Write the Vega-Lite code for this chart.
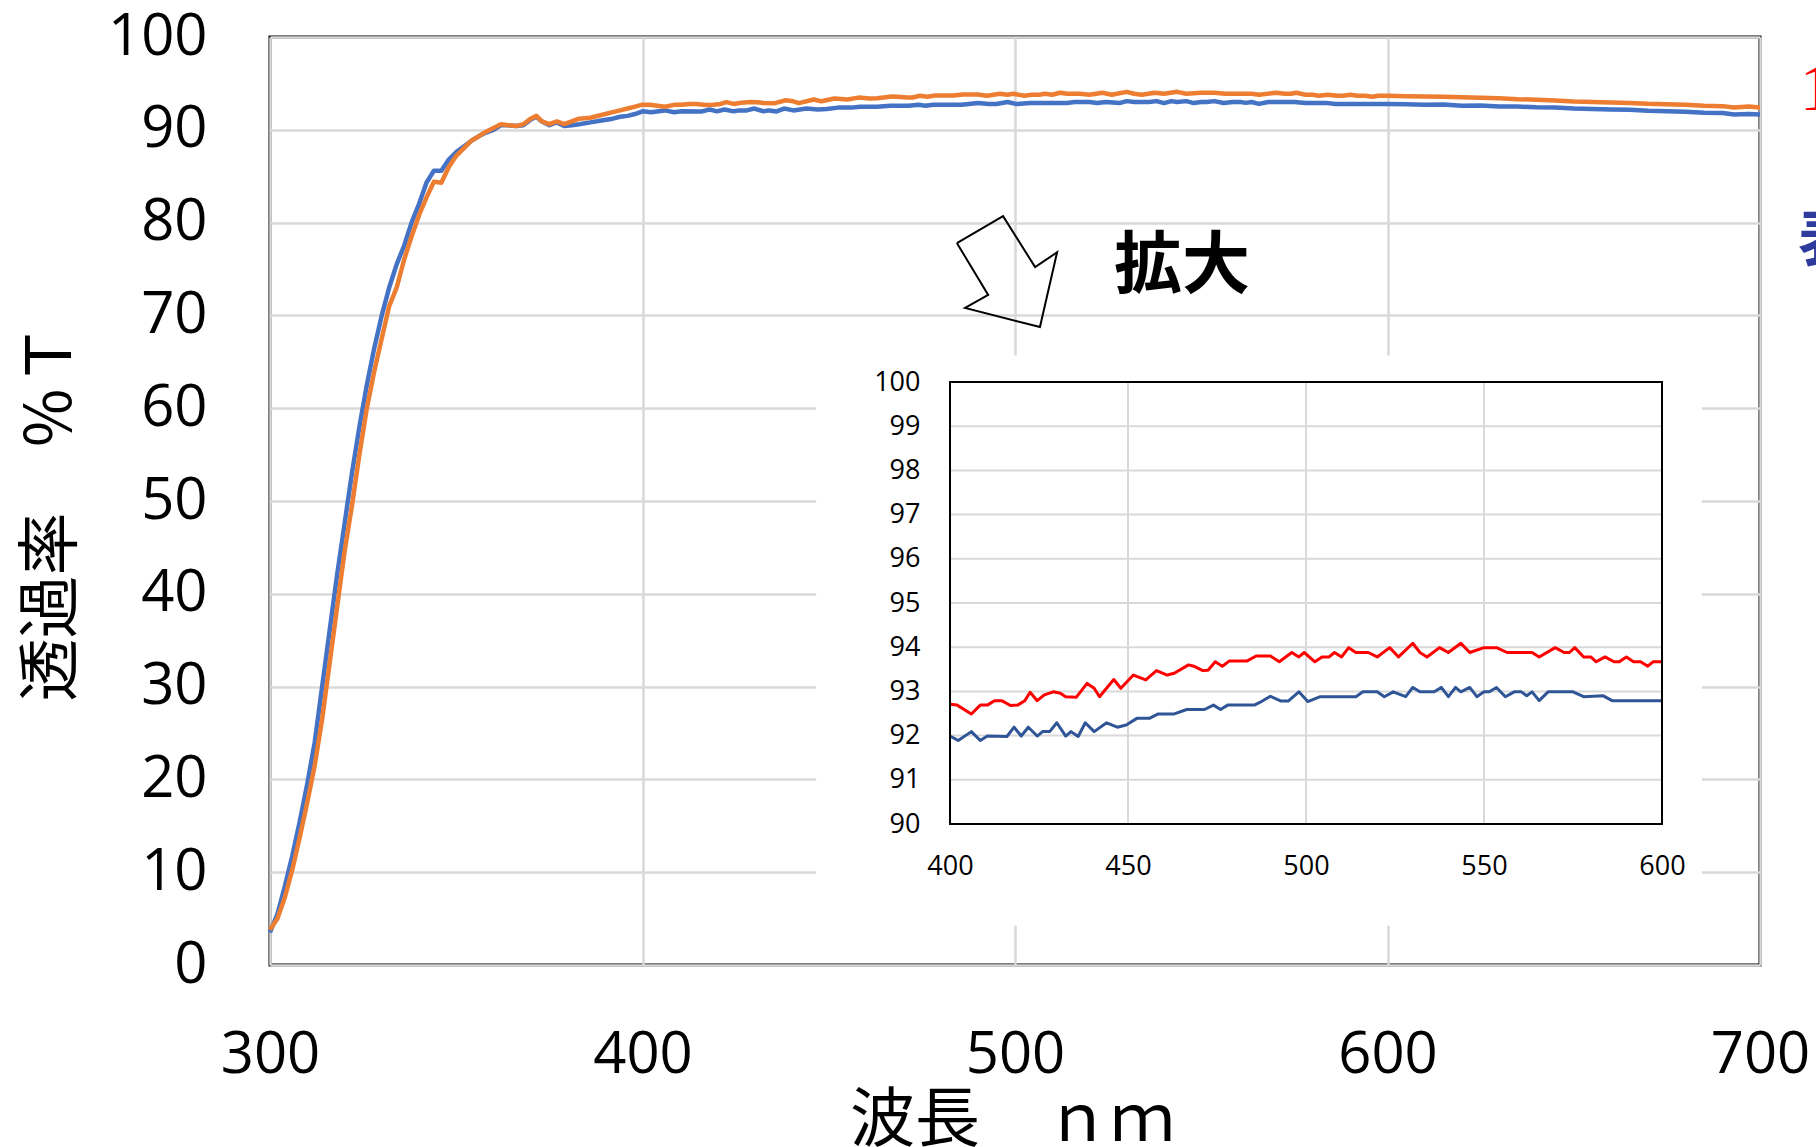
{
"$schema":"https://vega.github.io/schema/vega-lite/v6.json",
"width":1490,"height":928,
"autosize":{"type":"none"},
"padding":{"left":270,"top":37,"right":56,"bottom":182},
"background":"white",
"config":{"view":{"stroke":"black","strokeWidth":3},"font":"Open Sans"},
"datasets":{
"spec":[
{"wl":300,"s":"s2","t":3.5},{"wl":302,"s":"s2","t":5.5},{"wl":304,"s":"s2","t":8.5},{"wl":306,"s":"s2","t":11.8},{"wl":308,"s":"s2","t":15.5},{"wl":310,"s":"s2","t":19.5},{"wl":312,"s":"s2","t":24},{"wl":314,"s":"s2","t":30},{"wl":316,"s":"s2","t":36},{"wl":318,"s":"s2","t":42},{"wl":320,"s":"s2","t":47.5},{"wl":322,"s":"s2","t":53},{"wl":324,"s":"s2","t":58},{"wl":326,"s":"s2","t":62.5},{"wl":328,"s":"s2","t":66.5},{"wl":330,"s":"s2","t":70},{"wl":332,"s":"s2","t":73},{"wl":334,"s":"s2","t":75.5},{"wl":336,"s":"s2","t":77.5},{"wl":338,"s":"s2","t":80},{"wl":340,"s":"s2","t":82},{"wl":342,"s":"s2","t":84.3},{"wl":344,"s":"s2","t":85.6},{"wl":346,"s":"s2","t":85.6},{"wl":348,"s":"s2","t":86.8},{"wl":350,"s":"s2","t":87.6},{"wl":352,"s":"s2","t":88.2},{"wl":354,"s":"s2","t":88.8},{"wl":356,"s":"s2","t":89.3},{"wl":358,"s":"s2","t":89.7},{"wl":360,"s":"s2","t":90},{"wl":362,"s":"s2","t":90.5},{"wl":364,"s":"s2","t":90.5},{"wl":366,"s":"s2","t":90.4},{"wl":368,"s":"s2","t":90.5},{"wl":370,"s":"s2","t":91.1},{"wl":371.5,"s":"s2","t":91.4},{"wl":373,"s":"s2","t":90.9},{"wl":375,"s":"s2","t":90.5},{"wl":377,"s":"s2","t":90.8},{"wl":379,"s":"s2","t":90.4},{"wl":381,"s":"s2","t":90.5},{"wl":383,"s":"s2","t":90.6},{"wl":386,"s":"s2","t":90.8},{"wl":389,"s":"s2","t":91},{"wl":392,"s":"s2","t":91.2},{"wl":394,"s":"s2","t":91.4},{"wl":396,"s":"s2","t":91.5},{"wl":398,"s":"s2","t":91.7},
{"wl":400,"s":"s2","t":91.99},{"wl":402.3,"s":"s2","t":91.89},{"wl":406,"s":"s2","t":92.09},{"wl":408.5,"s":"s2","t":91.89},{"wl":410.5,"s":"s2","t":91.99},{"wl":416,"s":"s2","t":91.98},{"wl":418,"s":"s2","t":92.19},{"wl":420,"s":"s2","t":91.99},{"wl":422,"s":"s2","t":92.19},{"wl":424.5,"s":"s2","t":91.99},{"wl":426,"s":"s2","t":92.09},{"wl":428,"s":"s2","t":92.09},{"wl":430,"s":"s2","t":92.29},{"wl":432.5,"s":"s2","t":91.99},{"wl":434,"s":"s2","t":92.09},{"wl":436,"s":"s2","t":91.98},{"wl":438,"s":"s2","t":92.29},{"wl":440.5,"s":"s2","t":92.09},{"wl":444,"s":"s2","t":92.29},{"wl":447,"s":"s2","t":92.19},{"wl":449.5,"s":"s2","t":92.24},{"wl":452.5,"s":"s2","t":92.39},{"wl":456,"s":"s2","t":92.39},{"wl":458.5,"s":"s2","t":92.49},{"wl":463,"s":"s2","t":92.49},{"wl":466.5,"s":"s2","t":92.59},{"wl":471.5,"s":"s2","t":92.59},{"wl":474,"s":"s2","t":92.69},{"wl":476,"s":"s2","t":92.59},{"wl":478,"s":"s2","t":92.69},{"wl":485.5,"s":"s2","t":92.69},{"wl":487,"s":"s2","t":92.75},{"wl":490,"s":"s2","t":92.89},{"wl":493,"s":"s2","t":92.78},{"wl":495,"s":"s2","t":92.78},{"wl":498,"s":"s2","t":92.99},{"wl":500.5,"s":"s2","t":92.77},{"wl":504,"s":"s2","t":92.88},{"wl":514,"s":"s2","t":92.88},{"wl":516,"s":"s2","t":92.99},{"wl":520,"s":"s2","t":92.99},{"wl":522,"s":"s2","t":92.88},{"wl":524.5,"s":"s2","t":92.99},{"wl":528,"s":"s2","t":92.88},{"wl":530,"s":"s2","t":93.09},{"wl":532,"s":"s2","t":92.99},{"wl":536,"s":"s2","t":92.99},{"wl":538,"s":"s2","t":93.09},{"wl":540,"s":"s2","t":92.88},{"wl":542,"s":"s2","t":93.09},{"wl":543.5,"s":"s2","t":92.99},{"wl":546,"s":"s2","t":93.09},{"wl":548,"s":"s2","t":92.88},{"wl":550,"s":"s2","t":92.99},{"wl":551.5,"s":"s2","t":92.99},{"wl":553.5,"s":"s2","t":93.09},{"wl":556,"s":"s2","t":92.88},{"wl":558.5,"s":"s2","t":92.99},{"wl":560.5,"s":"s2","t":92.99},{"wl":562,"s":"s2","t":92.9},{"wl":563.5,"s":"s2","t":92.99},{"wl":565.5,"s":"s2","t":92.79},{"wl":568,"s":"s2","t":92.99},{"wl":575,"s":"s2","t":92.99},{"wl":578,"s":"s2","t":92.88},{"wl":583.5,"s":"s2","t":92.9},{"wl":586,"s":"s2","t":92.79},{"wl":600,"s":"s2","t":92.79},
{"wl":605,"s":"s2","t":92.75},{"wl":610,"s":"s2","t":92.7},{"wl":615,"s":"s2","t":92.72},{"wl":620,"s":"s2","t":92.6},{"wl":625,"s":"s2","t":92.62},{"wl":630,"s":"s2","t":92.5},{"wl":635,"s":"s2","t":92.5},{"wl":640,"s":"s2","t":92.42},{"wl":645,"s":"s2","t":92.4},{"wl":650,"s":"s2","t":92.3},{"wl":655,"s":"s2","t":92.25},{"wl":660,"s":"s2","t":92.2},{"wl":665,"s":"s2","t":92.15},{"wl":670,"s":"s2","t":92.05},{"wl":675,"s":"s2","t":92},{"wl":680,"s":"s2","t":91.95},{"wl":685,"s":"s2","t":91.85},{"wl":690,"s":"s2","t":91.8},{"wl":693,"s":"s2","t":91.65},{"wl":697,"s":"s2","t":91.7},{"wl":700,"s":"s2","t":91.65},
{"wl":300,"s":"s1","t":3.8},{"wl":302,"s":"s1","t":5},{"wl":304,"s":"s1","t":7.3},{"wl":306,"s":"s1","t":10.3},{"wl":308,"s":"s1","t":13.8},{"wl":310,"s":"s1","t":17.5},{"wl":312,"s":"s1","t":21.5},{"wl":314,"s":"s1","t":26.5},{"wl":316,"s":"s1","t":32.5},{"wl":318,"s":"s1","t":38.5},{"wl":320,"s":"s1","t":44.5},{"wl":322,"s":"s1","t":49.5},{"wl":324,"s":"s1","t":55},{"wl":326,"s":"s1","t":60},{"wl":328,"s":"s1","t":64},{"wl":330,"s":"s1","t":67.5},{"wl":332,"s":"s1","t":71},{"wl":334,"s":"s1","t":73},{"wl":336,"s":"s1","t":76},{"wl":338,"s":"s1","t":78.5},{"wl":340,"s":"s1","t":80.8},{"wl":342,"s":"s1","t":82.7},{"wl":344,"s":"s1","t":84.4},{"wl":346,"s":"s1","t":84.3},{"wl":348,"s":"s1","t":86},{"wl":350,"s":"s1","t":87.2},{"wl":352,"s":"s1","t":88},{"wl":354,"s":"s1","t":88.8},{"wl":356,"s":"s1","t":89.3},{"wl":358,"s":"s1","t":89.8},{"wl":360,"s":"s1","t":90.2},{"wl":362,"s":"s1","t":90.6},{"wl":364,"s":"s1","t":90.5},{"wl":366,"s":"s1","t":90.4},{"wl":368,"s":"s1","t":90.6},{"wl":370,"s":"s1","t":91.2},{"wl":371.5,"s":"s1","t":91.5},{"wl":373,"s":"s1","t":90.9},{"wl":375,"s":"s1","t":90.6},{"wl":377,"s":"s1","t":90.9},{"wl":379,"s":"s1","t":90.6},{"wl":381,"s":"s1","t":90.9},{"wl":383,"s":"s1","t":91.2},{"wl":386,"s":"s1","t":91.3},{"wl":389,"s":"s1","t":91.6},{"wl":392,"s":"s1","t":91.9},{"wl":394,"s":"s1","t":92.1},{"wl":396,"s":"s1","t":92.3},{"wl":398,"s":"s1","t":92.5},
{"wl":400,"s":"s1","t":92.71},{"wl":402,"s":"s1","t":92.69},{"wl":406,"s":"s1","t":92.49},{"wl":408.5,"s":"s1","t":92.69},{"wl":410.5,"s":"s1","t":92.69},{"wl":412.5,"s":"s1","t":92.79},{"wl":414.5,"s":"s1","t":92.79},{"wl":417,"s":"s1","t":92.68},{"wl":419,"s":"s1","t":92.69},{"wl":421,"s":"s1","t":92.79},{"wl":422.5,"s":"s1","t":92.98},{"wl":424.5,"s":"s1","t":92.79},{"wl":426.5,"s":"s1","t":92.92},{"wl":429,"s":"s1","t":92.99},{"wl":431,"s":"s1","t":92.96},{"wl":432.5,"s":"s1","t":92.88},{"wl":435.5,"s":"s1","t":92.87},{"wl":438.5,"s":"s1","t":93.18},{"wl":440.5,"s":"s1","t":93.07},{"wl":442,"s":"s1","t":92.88},{"wl":446,"s":"s1","t":93.27},{"wl":448,"s":"s1","t":93.07},{"wl":451.5,"s":"s1","t":93.37},{"wl":455,"s":"s1","t":93.26},{"wl":458,"s":"s1","t":93.47},{"wl":461,"s":"s1","t":93.37},{"wl":463,"s":"s1","t":93.41},{"wl":467,"s":"s1","t":93.6},{"wl":468.5,"s":"s1","t":93.57},{"wl":471,"s":"s1","t":93.47},{"wl":472.5,"s":"s1","t":93.48},{"wl":474.5,"s":"s1","t":93.67},{"wl":476.5,"s":"s1","t":93.57},{"wl":478.5,"s":"s1","t":93.69},{"wl":483.5,"s":"s1","t":93.69},{"wl":486,"s":"s1","t":93.8},{"wl":490,"s":"s1","t":93.8},{"wl":492.5,"s":"s1","t":93.67},{"wl":496,"s":"s1","t":93.88},{"wl":498,"s":"s1","t":93.78},{"wl":499.5,"s":"s1","t":93.88},{"wl":502.5,"s":"s1","t":93.67},{"wl":504.5,"s":"s1","t":93.78},{"wl":506.5,"s":"s1","t":93.78},{"wl":508,"s":"s1","t":93.88},{"wl":510,"s":"s1","t":93.78},{"wl":512,"s":"s1","t":93.99},{"wl":514,"s":"s1","t":93.88},{"wl":517.5,"s":"s1","t":93.88},{"wl":520,"s":"s1","t":93.78},{"wl":523.5,"s":"s1","t":93.99},{"wl":526,"s":"s1","t":93.78},{"wl":530,"s":"s1","t":94.09},{"wl":532,"s":"s1","t":93.88},{"wl":534,"s":"s1","t":93.78},{"wl":537.5,"s":"s1","t":93.99},{"wl":540,"s":"s1","t":93.88},{"wl":543.5,"s":"s1","t":94.09},{"wl":546,"s":"s1","t":93.88},{"wl":550,"s":"s1","t":93.99},{"wl":553.5,"s":"s1","t":93.99},{"wl":556.5,"s":"s1","t":93.88},{"wl":563.5,"s":"s1","t":93.88},{"wl":565.5,"s":"s1","t":93.78},{"wl":570,"s":"s1","t":93.99},{"wl":572.5,"s":"s1","t":93.88},{"wl":574,"s":"s1","t":93.88},{"wl":575.5,"s":"s1","t":93.99},{"wl":578,"s":"s1","t":93.78},{"wl":580,"s":"s1","t":93.78},{"wl":581.5,"s":"s1","t":93.67},{"wl":584,"s":"s1","t":93.78},{"wl":586.5,"s":"s1","t":93.67},{"wl":588,"s":"s1","t":93.67},{"wl":590,"s":"s1","t":93.78},{"wl":592,"s":"s1","t":93.67},{"wl":594,"s":"s1","t":93.67},{"wl":596,"s":"s1","t":93.57},{"wl":597.5,"s":"s1","t":93.67},{"wl":600,"s":"s1","t":93.67},
{"wl":605,"s":"s1","t":93.62},{"wl":610,"s":"s1","t":93.6},{"wl":615,"s":"s1","t":93.55},{"wl":620,"s":"s1","t":93.5},{"wl":625,"s":"s1","t":93.45},{"wl":630,"s":"s1","t":93.4},{"wl":635,"s":"s1","t":93.3},{"wl":640,"s":"s1","t":93.25},{"wl":645,"s":"s1","t":93.15},{"wl":650,"s":"s1","t":93.05},{"wl":655,"s":"s1","t":93},{"wl":660,"s":"s1","t":92.95},{"wl":665,"s":"s1","t":92.9},{"wl":670,"s":"s1","t":92.8},{"wl":675,"s":"s1","t":92.75},{"wl":680,"s":"s1","t":92.7},{"wl":685,"s":"s1","t":92.6},{"wl":690,"s":"s1","t":92.55},{"wl":693,"s":"s1","t":92.4},{"wl":697,"s":"s1","t":92.5},{"wl":700,"s":"s1","t":92.4}
],
"arrow":[{"o":1,"wl":484.4,"t":77.8},{"o":2,"wl":496.8,"t":80.7},{"o":3,"wl":505.4,"t":75.2},{"o":4,"wl":511.3,"t":76.8},{"o":5,"wl":506.7,"t":68.75},{"o":6,"wl":486.6,"t":70.8},{"o":7,"wl":492.8,"t":72.2},{"o":8,"wl":484.4,"t":77.8}],
"panel":[{"wl":362.4,"wl2":611.2,"t":87.7,"t2":100.6}],
"frame":[{"wl":400,"wl2":600,"t":90,"t2":100}],
"vgrid":[{"wl":450,"t":90,"t2":100},{"wl":500,"t":90,"t2":100},{"wl":550,"t":90,"t2":100}],
"hgrid":[{"wl":400,"wl2":600,"t":91},{"wl":400,"wl2":600,"t":92},{"wl":400,"wl2":600,"t":93},{"wl":400,"wl2":600,"t":94},{"wl":400,"wl2":600,"t":95},{"wl":400,"wl2":600,"t":96},{"wl":400,"wl2":600,"t":97},{"wl":400,"wl2":600,"t":98},{"wl":400,"wl2":600,"t":99}]
},
"layer":[
{
"encoding":{
"x":{"field":"wl","type":"quantitative","scale":{"domain":[300,700],"nice":false,"zero":false},
"axis":{"values":[300,400,500,600,700],"grid":true,"gridColor":"#D9D9D9","gridWidth":2.5,"domain":false,"ticks":false,"labelFontSize":58,"labelFont":"Open Sans","labelColor":"#000000","labelPadding":61,"labelFlush":false,"labelOverlap":false,"labelBound":false,"title":"波長　ｎｍ","titleFont":"Noto Sans CJK JP","titleFontSize":65,"titleFontWeight":"normal","titleColor":"#000000","titleX":742,"titleY":175,"titleBaseline":"alphabetic","titleAlign":"center"}},
"y":{"field":"t","type":"quantitative","scale":{"domain":[0,100],"nice":false,"zero":false},
"axis":{"values":[0,10,20,30,40,50,60,70,80,90,100],"grid":true,"gridColor":"#D9D9D9","gridWidth":2.5,"domain":false,"ticks":false,"labelFontSize":58,"labelFont":"Open Sans","labelColor":"#000000","labelPadding":63,"labelFlush":false,"labelOverlap":false,"labelBound":false,"title":"透過率　％Ｔ","titleFont":"Noto Sans CJK JP","titleFontSize":63,"titleFontWeight":"normal","titleColor":"#000000","titleAngle":270,"titleX":-219,"titleY":475,"titleBaseline":"middle","titleAlign":"center"}}
},
"layer":[
{"data":{"name":"spec"},"transform":[{"filter":"datum.s === 's2'"}],"mark":{"type":"line","color":"#4472C4","strokeWidth":4.5,"strokeJoin":"round"}},
{"data":{"name":"spec"},"transform":[{"filter":"datum.s === 's1'"}],"mark":{"type":"line","color":"#ED7D31","strokeWidth":4.5,"strokeJoin":"round"}},
{"data":{"name":"arrow"},"mark":{"type":"line","color":"#000000","strokeWidth":2,"strokeJoin":"miter"},"encoding":{"order":{"field":"o","type":"quantitative"}}},
{"data":{"values":[{"wl":544.8,"t":75.1,"txt":"拡大"}]},"mark":{"type":"text","font":"Noto Sans CJK JP","fontSize":68,"fontWeight":"bold","align":"center","baseline":"middle","color":"#000000"},"encoding":{"text":{"field":"txt"}}},
{"data":{"values":[{"wl":710.7,"t":92.13,"txt":"1"}]},"mark":{"type":"text","font":"Liberation Serif","fontSize":68,"align":"left","baseline":"alphabetic","color":"#FF0000"},"encoding":{"text":{"field":"txt"}}},
{"data":{"values":[{"wl":710.2,"t":75.86,"txt":"表"}]},"mark":{"type":"text","font":"Noto Sans CJK JP","fontSize":62,"fontWeight":"bold","align":"left","baseline":"alphabetic","color":"#2E3A9C"},"encoding":{"text":{"field":"txt"}}}
]
},
{
"encoding":{
"x":{"field":"wl","type":"quantitative","scale":{"domain":[400,600],"range":[680,1392],"nice":false,"zero":false},
"axis":{"orient":"bottom","offset":-141,"zindex":1,"values":[400,450,500,550,600],"grid":false,"domain":false,"ticks":false,"labelFontSize":27,"labelFont":"Open Sans","labelColor":"#000000","labelPadding":29,"labelFlush":false,"labelOverlap":false,"labelBound":false,"title":null}},
"y":{"field":"t","type":"quantitative","scale":{"domain":[90,100],"range":[787,345],"nice":false,"zero":false},
"axis":{"orient":"left","offset":-680,"zindex":1,"values":[90,91,92,93,94,95,96,97,98,99,100],"grid":false,"domain":false,"ticks":false,"labelFontSize":27,"labelFont":"Open Sans","labelColor":"#000000","labelPadding":30,"labelFlush":false,"labelOverlap":false,"labelBound":false,"title":null}}
},
"layer":[
{"data":{"name":"panel"},"mark":{"type":"rect","fill":"#FFFFFF","stroke":null},"encoding":{"x2":{"field":"wl2"},"y2":{"field":"t2"}}},
{"data":{"name":"vgrid"},"mark":{"type":"rule","color":"#D9D9D9","strokeWidth":2},"encoding":{"y2":{"field":"t2"}}},
{"data":{"name":"hgrid"},"mark":{"type":"rule","color":"#D9D9D9","strokeWidth":2},"encoding":{"x2":{"field":"wl2"}}},
{"data":{"name":"spec"},"transform":[{"filter":"datum.s === 's2' && datum.wl >= 400 && datum.wl <= 600"}],"mark":{"type":"line","color":"#2F5597","strokeWidth":3,"strokeJoin":"round"}},
{"data":{"name":"spec"},"transform":[{"filter":"datum.s === 's1' && datum.wl >= 400 && datum.wl <= 600"}],"mark":{"type":"line","color":"#FF0000","strokeWidth":3,"strokeJoin":"round"}},
{"data":{"name":"frame"},"mark":{"type":"rect","fill":null,"fillOpacity":0,"stroke":"#000000","strokeWidth":2},"encoding":{"x2":{"field":"wl2"},"y2":{"field":"t2"}}}
]
}
],
"resolve":{"scale":{"x":"independent","y":"independent"}}
}
